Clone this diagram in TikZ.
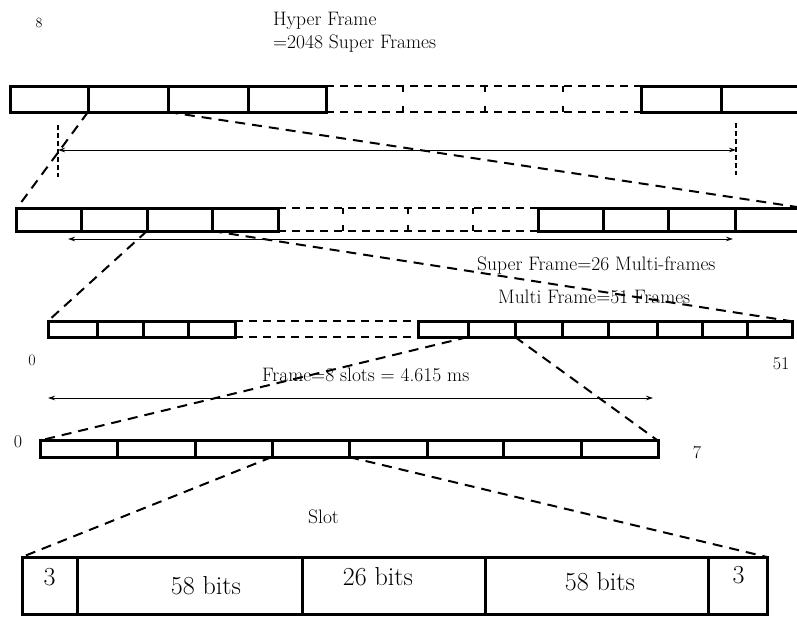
\documentclass[tikz,border=0pt]{standalone}
\usetikzlibrary{arrows.meta}
\begin{document}
\begin{tikzpicture}[x=1pt, y=-1pt,
        cellbox/.style={line width=3pt},
        gapline/.style={line width=2pt, dash pattern=on 8pt off 6pt},
        gaptick/.style={line width=1.8pt},
        zoomline/.style={line width=2pt, dash pattern=on 10pt off 7pt},
        span/.style={{Stealth[length=7pt,width=4.5pt]}-{Stealth[length=7pt,width=4.5pt]}, line width=0.8pt},
        guide/.style={line width=1.2pt, dash pattern=on 5pt off 3pt},
        txt/.style={anchor=base, inner sep=0pt, font=\fontsize{19.5}{22}\selectfont},
        bits/.style={anchor=base, inner sep=0pt, font=\fontsize{26}{30}\selectfont}
    ]
    \useasboundingbox (0,0) rectangle (797,616);

    % hyper frame
    \draw [cellbox] (10,86) rectangle (326,112);
    \draw [cellbox] (88,86) -- (88,112) (168,86) -- (168,112) (248,86) -- (248,112);
    \draw [cellbox] (800,86) -- (641,86) -- (641,112) -- (800,112) (721,86) -- (721,112);
    \draw [gapline] (326,86) -- (641,86) (326,112) -- (641,112);
    \draw [gaptick, dash pattern=on 6pt off 14pt] (403,86) -- (403,112) (485,86) -- (485,112) (563,86) -- (563,112);

    % super frame
    \draw [cellbox] (16,208) rectangle (278,231);
    \draw [cellbox] (81,208) -- (81,231) (147,208) -- (147,231) (212,208) -- (212,231);
    \draw [cellbox] (800,208) -- (538,208) -- (538,231) -- (800,231);
    \draw [cellbox] (603,208) -- (603,231) (668,208) -- (668,231) (735,208) -- (735,231);
    \draw [gapline] (278,208) -- (538,208) (278,231) -- (538,231);
    \draw [gaptick, dash pattern=on 6pt off 11pt] (343,208) -- (343,231) (408,208) -- (408,231) (473,208) -- (473,231);

    % multi frame
    \draw [cellbox] (48,321) rectangle (235,337);
    \draw [cellbox] (97,321) -- (97,337) (143,321) -- (143,337) (188,321) -- (188,337);
    \draw [cellbox] (418,321) rectangle (792,337);
    \draw [cellbox] (468,321) -- (468,337) (515,321) -- (515,337) (562,321) -- (562,337) (608,321) -- (608,337);
    \draw [cellbox] (657,321) -- (657,337) (702,321) -- (702,337) (747,321) -- (747,337);
    \draw [gapline] (235,321) -- (418,321) (235,337) -- (418,337);

    % frame
    \draw [cellbox] (40,440) rectangle (658,457);
    \draw [cellbox] (117,440) -- (117,457) (195,440) -- (195,457) (272,440) -- (272,457) (349,440) -- (349,457);
    \draw [cellbox] (427,440) -- (427,457) (503,440) -- (503,457) (581,440) -- (581,457);

    % slot
    \draw [cellbox] (22,557) rectangle (767,614);
    \draw [cellbox] (77,557) -- (77,614) (302,557) -- (302,614) (485,557) -- (485,614) (708,557) -- (708,614);

    % corners for the zoom lines
    \coordinate (hf2) at (88,112);
    \coordinate (hf3) at (168,112);
    \coordinate (sfL) at (17,208);
    \coordinate (sfR) at (797,207);
    \coordinate (sf3) at (147,231);
    \coordinate (sf4) at (212,231);
    \coordinate (mfL) at (48,321);
    \coordinate (mfR) at (790,321);
    \coordinate (mf6) at (468,337);
    \coordinate (mf7) at (515,337);
    \coordinate (frL) at (42,440);
    \coordinate (frR) at (657,440);
    \coordinate (fr4) at (272,457);
    \coordinate (fr5) at (349,457);
    \coordinate (slL) at (22,557);
    \coordinate (slR) at (767,557);

    \draw [zoomline] (hf2) -- (sfL);
    \draw [zoomline] (hf3) -- (sfR);
    \draw [zoomline] (sf3) -- (mfL);
    \draw [zoomline] (sf4) -- (mfR);
    \draw [zoomline] (mf6) -- (frL);
    \draw [zoomline] (mf7) -- (frR);
    \draw [zoomline] (fr4) -- (slL);
    \draw [zoomline] (fr5) -- (slR);

    % length arrows
    \coordinate (hfA) at (58,150);
    \coordinate (hfB) at (736,150);
    \coordinate (sfA) at (68,239);
    \coordinate (sfB) at (733,239);
    \coordinate (frA) at (48,398);
    \coordinate (frB) at (653,398);
    \draw [guide] (58,125) -- (58,177);
    \draw [guide] (736,123) -- (736,175);
    \draw [span] (hfA) -- (hfB);
    \draw [span] (sfA) -- (sfB);
    \draw [span] (frA) -- (frB);

    % labels
    \node (eight) [txt, font=\fontsize{14}{16}\selectfont] at (39,27) {8};
    \node (hyper) [txt, anchor=base west] at (273,25) {Hyper Frame};
    \node (hyperb) [txt, anchor=base west] at (273,48) {=2048 Super Frames};
    \node (super) [txt, anchor=base west] at (477,270) {Super Frame=26 Multi-frames};
    \node (multi) [txt, anchor=base west] at (498,303) {Multi Frame=51 Frames};
    \node (mfzero) [txt, font=\fontsize{16}{18}\selectfont] at (32,365) {0};
    \node (mflast) [txt, font=\fontsize{18}{20}\selectfont] at (781,369) {51};
    \node (frame) [txt, anchor=base west] at (262,381) {Frame=8 slots = 4.615 ms};
    \node (frzero) [txt, font=\fontsize{18}{20}\selectfont] at (18,447) {0};
    \node (frlast) [txt, font=\fontsize{18}{20}\selectfont] at (697,458) {7};
    \node (slot) [txt, anchor=base west] at (308,523) {Slot};
    \node (tailA) [bits] at (49.5,585) {3};
    \node (dataA) [bits] at (206,594) {58 bits};
    \node (train) [bits] at (378,585) {26 bits};
    \node (dataB) [bits] at (600,590) {58 bits};
    \node (tailB) [bits] at (738.5,583) {3};
\end{tikzpicture}
\end{document}
